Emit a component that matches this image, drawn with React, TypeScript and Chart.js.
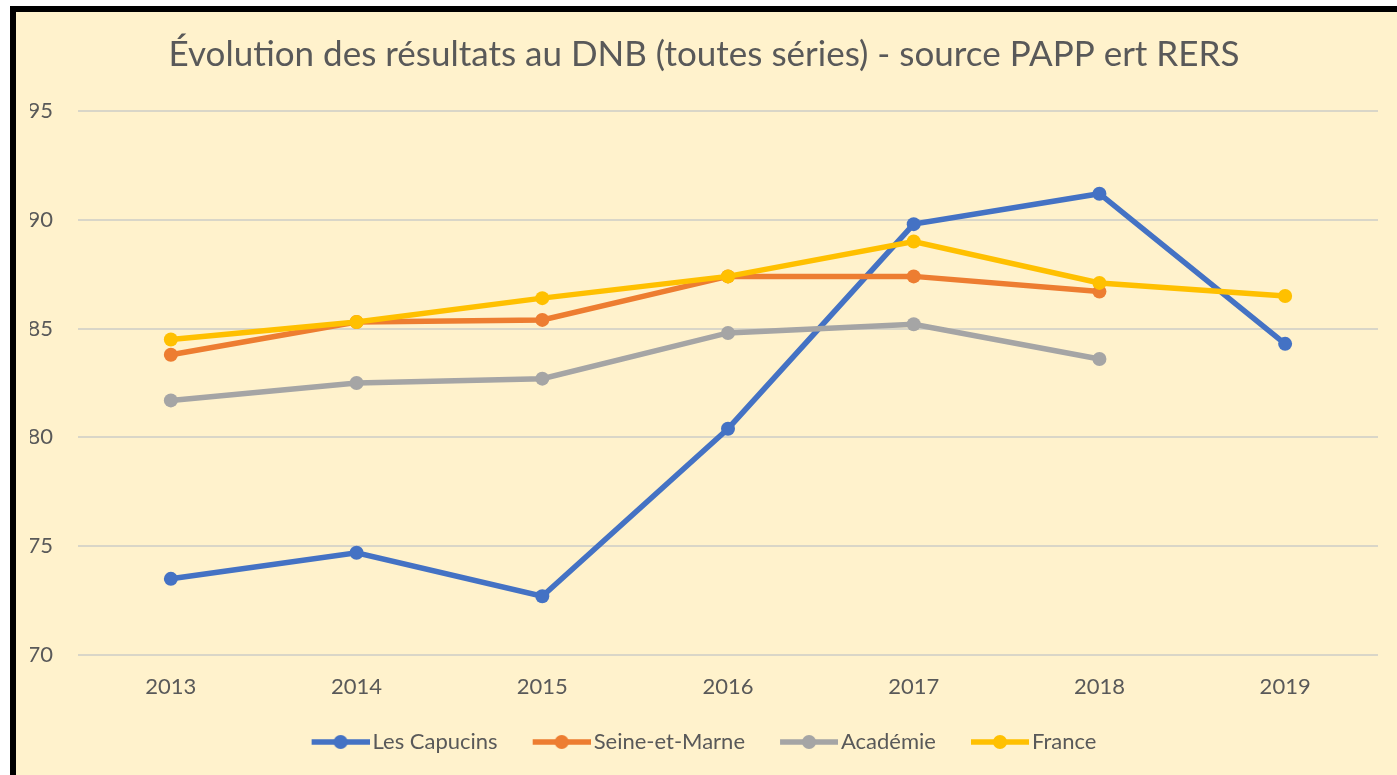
import { useEffect, useRef } from "react";
import { Chart, registerables } from "chart.js";

Chart.register(...registerables);

const years = ["2013", "2014", "2015", "2016", "2017", "2018", "2019"];
const capucins = [73.5, 74.7, 72.7, 80.4, 89.8, 91.2, 84.3];
const seineEtMarne = [83.8, 85.3, 85.4, 87.4, 87.4, 86.7, null];
const academie = [81.7, 82.5, 82.7, 84.8, 85.2, 83.6, null];
const france = [84.5, 85.3, 86.4, 87.4, 89.0, 87.1, 86.5];
const seriesNames = ["Les Capucins", "Seine-et-Marne", "Académie", "France"];
const seriesColors = ["#4472C4", "#ED7D31", "#A5A5A5", "#FFC000"];
const yMin = 70;
const yMax = 95;
const yStep = 5;
const titleText = "Évolution des résultats au DNB (toutes séries) - source PAPP ert RERS";

const FONT = "Lato, 'Open Sans', sans-serif";
const TEXT = "#595959";

function legendIcon(color: string): HTMLCanvasElement {
  const c = document.createElement("canvas");
  c.width = 66;
  c.height = 16;
  const ctx = c.getContext("2d")!;
  ctx.strokeStyle = color;
  ctx.lineWidth = 5.5;
  ctx.beginPath();
  ctx.moveTo(8, 8);
  ctx.lineTo(66, 8);
  ctx.stroke();
  ctx.fillStyle = color;
  ctx.beginPath();
  ctx.arc(37, 8, 7, 0, Math.PI * 2);
  ctx.fill();
  return c;
}

export default function App() {
  const ref = useRef<HTMLCanvasElement | null>(null);

  useEffect(() => {
    if (!ref.current) return;
    const allSeries = [capucins, seineEtMarne, academie, france];
    const icons = seriesColors.map((c) => legendIcon(c));
    const chart = new Chart(ref.current, {
      type: "line",
      data: {
        labels: years,
        datasets: allSeries.map((d, i) => ({
          label: seriesNames[i],
          data: d,
          borderColor: seriesColors[i],
          backgroundColor: seriesColors[i],
          borderWidth: 5.5,
          pointRadius: 7,
          pointHoverRadius: 7,
          pointBorderWidth: 0,
          pointBackgroundColor: seriesColors[i],
          tension: 0,
          spanGaps: false,
          order: allSeries.length - 1 - i,
        })),
      },
      options: {
        responsive: false,
        animation: false,
        devicePixelRatio: 1,
        layout: { padding: { left: 14, right: 19, top: 0, bottom: 12 } },
        plugins: {
          title: {
            display: true,
            text: titleText,
            color: TEXT,
            font: { family: FONT, size: 35, weight: "normal" },
            padding: { top: 22, bottom: 35 },
          },
          legend: {
            position: "bottom",
            labels: {
              usePointStyle: true,
              pointStyleWidth: 50,
              padding: 35,
              color: TEXT,
              font: { family: FONT, size: 22 },
              generateLabels: (ch: any) =>
                ch.data.datasets.map((ds: any, i: number) => ({
                  text: ds.label,
                  fillStyle: seriesColors[i],
                  strokeStyle: seriesColors[i],
                  lineWidth: 0,
                  pointStyle: icons[i],
                  hidden: false,
                  datasetIndex: i,
                  fontColor: TEXT,
                })),
            },
          },
          tooltip: { enabled: false },
        },
        scales: {
          x: {
            offset: true,
            grid: { display: false, drawTicks: false },
            border: { display: false },
            ticks: { color: TEXT, font: { family: FONT, size: 22 }, padding: 19 },
            afterFit: (s: any) => {
              s.height = 41;
            },
          },
          y: {
            min: yMin,
            max: yMax,
            grid: { color: "#D9D6C8", lineWidth: 2, drawTicks: false },
            border: { display: false },
            ticks: {
              stepSize: yStep,
              color: TEXT,
              font: { family: FONT, size: 22 },
              padding: 25,
            },
            afterFit: (s: any) => {
              s.width = 48;
            },
          },
        },
      },
    });
    return () => chart.destroy();
  }, []);

  return (
    <div
      style={{
        position: "absolute",
        left: 10,
        top: 6,
        width: 1387,
        height: 769,
        boxSizing: "border-box",
        borderTop: "6px solid #000",
        borderLeft: "6px solid #000",
        background: "#FFF2CC",
      }}
    >
      <canvas ref={ref} width={1381} height={763} style={{ display: "block" }} />
    </div>
  );
}
